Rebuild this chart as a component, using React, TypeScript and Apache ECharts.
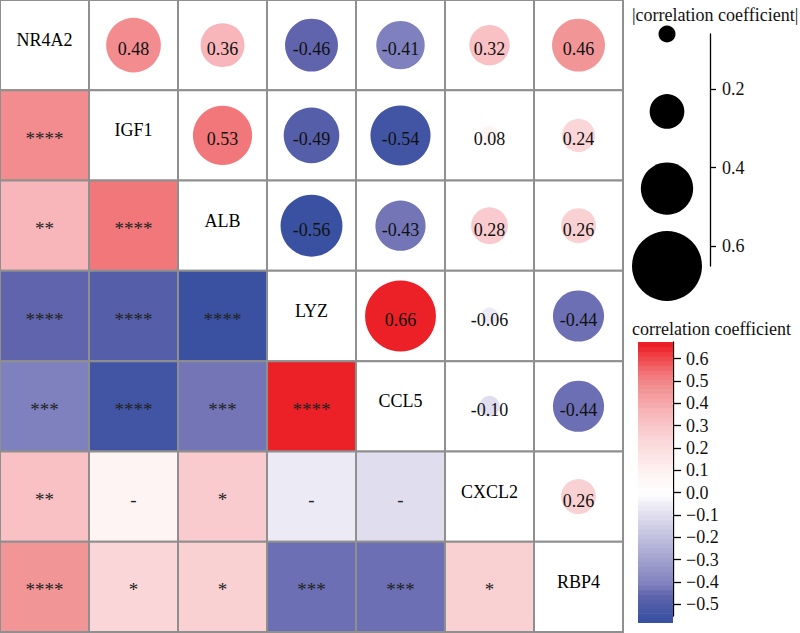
import React, { useEffect, useRef } from 'react';
import * as echarts from 'echarts';

// ---------- data ----------
const genes = ['NR4A2', 'IGF1', 'ALB', 'LYZ', 'CCL5', 'CXCL2', 'RBP4'];

const rNR4A2 = [1, 0.48, 0.36, -0.46, -0.41, 0.32, 0.46];
const rIGF1 = [0.48, 1, 0.53, -0.49, -0.54, 0.08, 0.24];
const rALB = [0.36, 0.53, 1, -0.56, -0.43, 0.28, 0.26];
const rLYZ = [-0.46, -0.49, -0.56, 1, 0.66, -0.06, -0.44];
const rCCL5 = [-0.41, -0.54, -0.43, 0.66, 1, -0.10, -0.44];
const rCXCL2 = [0.32, 0.08, 0.28, -0.06, -0.10, 1, 0.26];
const rRBP4 = [0.46, 0.24, 0.26, -0.44, -0.44, 0.26, 1];
const corrRows = [rNR4A2, rIGF1, rALB, rLYZ, rCCL5, rCXCL2, rRBP4];

// significance marks for the lower triangle (row gene vs earlier column genes)
const sigIGF1 = ['****'];
const sigALB = ['**', '****'];
const sigLYZ = ['****', '****', '****'];
const sigCCL5 = ['***', '****', '***', '****'];
const sigCXCL2 = ['**', '-', '*', '-', '-'];
const sigRBP4 = ['****', '*', '*', '***', '***', '*'];
const sigRows: string[][] = [[], sigIGF1, sigALB, sigLYZ, sigCCL5, sigCXCL2, sigRBP4];

// size legend values (|r|) and axis extent
const sizeLegendValues = [0.06, 0.257, 0.453, 0.65];
const sizeExtent = [0.06, 0.65];
// colour bar extent
const colorAxisExtent = [-0.553, 0.674];
const colorBarExtent = [-0.582, 0.674];

// ---------- style ----------
const FONT = '"Liberation Serif", "Times New Roman", Times, serif';
const GRID_COLOR = '#8f8f8f';
const TEXT_COLOR = '#111111';

const colorStops: [number, number[]][] = [
  [-0.56, [58, 81, 162]],
  [-0.46, [96, 100, 172]],
  [-0.41, [127, 128, 190]],
  [-0.10, [224, 222, 238]],
  [0, [255, 255, 255]],
  [0.08, [255, 244, 244]],
  [0.24, [250, 214, 216]],
  [0.36, [248, 182, 186]],
  [0.46, [242, 149, 151]],
  [0.53, [242, 119, 123]],
  [0.66, [236, 32, 39]],
];

function colorFor(r: number): string {
  if (r <= colorStops[0][0]) return rgb(colorStops[0][1]);
  const last = colorStops[colorStops.length - 1];
  if (r >= last[0]) return rgb(last[1]);
  for (let k = 0; k < colorStops.length - 1; k++) {
    const [a, ca] = colorStops[k];
    const [b, cb] = colorStops[k + 1];
    if (r >= a && r <= b) {
      const t = (r - a) / (b - a);
      return rgb([0, 1, 2].map((q) => ca[q] + (cb[q] - ca[q]) * t));
    }
  }
  return '#ffffff';
}
function rgb(c: number[]) {
  return `rgb(${Math.round(c[0])},${Math.round(c[1])},${Math.round(c[2])})`;
}
function diameter(a: number) {
  return 17 + (a - 0.06) * 89.8;
}

type Cell = { value: number[]; kind: 'diag' | 'lower' | 'upper'; text: string; r: number };

export default function App() {
  const ref = useRef<HTMLDivElement>(null);

  useEffect(() => {
    if (!ref.current) return;
    const chart = echarts.init(ref.current, undefined, { renderer: 'svg' });

    const cells: Cell[] = [];
    const circles: any[] = [];
    for (let i = 0; i < genes.length; i++) {
      for (let j = 0; j < genes.length; j++) {
        const r = corrRows[i][j];
        if (i === j) cells.push({ value: [j, i, r], kind: 'diag', text: genes[i], r });
        else if (j < i) cells.push({ value: [j, i, r], kind: 'lower', text: sigRows[i][j], r });
        else {
          cells.push({ value: [j, i, r], kind: 'upper', text: '', r });
          circles.push({ value: [j, i, r], itemStyle: { color: colorFor(r), opacity: 1 } });
        }
      }
    }

    const nBands = 60;
    const bands: number[][] = [];
    for (let k = 0; k < nBands; k++) {
      const v0 = colorBarExtent[0] + ((colorBarExtent[1] - colorBarExtent[0]) * k) / nBands;
      const v1 = colorBarExtent[0] + ((colorBarExtent[1] - colorBarExtent[0]) * (k + 1)) / nBands;
      bands.push([0, v0, v1]);
    }

    const axisBlack = { color: '#000', width: 1.3 };

    const option: any = {
      animation: false,
      backgroundColor: '#ffffff',
      grid: [
        { left: 0, top: 0, width: 623, height: 632 },
        { left: 624, top: 34, width: 86, height: 232 },
        { left: 638, top: 342, width: 35, height: 274 },
      ],
      xAxis: [
        { type: 'category', data: genes, gridIndex: 0, show: false },
        { type: 'value', gridIndex: 1, min: 0, max: 1, show: false },
        { type: 'value', gridIndex: 2, min: 0, max: 1, show: false },
      ],
      yAxis: [
        { type: 'category', data: genes, gridIndex: 0, inverse: true, show: false },
        {
          type: 'value',
          gridIndex: 1,
          inverse: true,
          min: sizeExtent[0],
          max: sizeExtent[1],
          splitNumber: 3,
          position: 'right',
          axisLine: { show: true, onZero: false, lineStyle: axisBlack },
          axisTick: { show: true, length: 6, lineStyle: axisBlack },
          splitLine: { show: false },
          axisLabel: {
            show: true,
            fontSize: 18,
            fontFamily: FONT,
            color: TEXT_COLOR,
            margin: 12,
            showMinLabel: false,
            showMaxLabel: false,
            formatter: (v: number) => v.toFixed(1),
          },
        },
        {
          type: 'value',
          gridIndex: 2,
          min: colorAxisExtent[0],
          max: colorAxisExtent[1],
          splitNumber: 12,
          position: 'right',
          axisLine: { show: true, onZero: false, lineStyle: axisBlack },
          axisTick: { show: true, length: 8, lineStyle: axisBlack },
          splitLine: { show: false },
          axisLabel: {
            show: true,
            fontSize: 18,
            fontFamily: FONT,
            color: TEXT_COLOR,
            margin: 13,
            showMinLabel: false,
            showMaxLabel: false,
            formatter: (v: number) => (Math.abs(v) < 1e-9 ? '0.0' : v.toFixed(1).replace('-', '\u2212')),
          },
        },
      ],
      graphic: [
        {
          type: 'text',
          x: 632,
          y: 15,
          style: {
            text: '|correlation coefficient|',
            font: `18px ${FONT}`,
            fill: TEXT_COLOR,
            textVerticalAlign: 'middle',
            verticalAlign: 'middle',
          },
        },
        {
          type: 'text',
          x: 632,
          y: 329,
          style: {
            text: 'correlation coefficient',
            font: `18px ${FONT}`,
            fill: TEXT_COLOR,
            textVerticalAlign: 'middle',
            verticalAlign: 'middle',
          },
        },
      ],
      series: [
        {
          type: 'custom',
          xAxisIndex: 0,
          yAxisIndex: 0,
          data: cells.map((c) => c.value),
          z: 1,
          renderItem: (params: any, api: any) => {
            const d = cells[params.dataIndex];
            const c = api.coord([api.value(0), api.value(1)]);
            const s = api.size([1, 1]);
            const fill = d.kind === 'lower' ? colorFor(d.r) : '#ffffff';
            const children: any[] = [
              {
                type: 'rect',
                shape: { x: c[0] - s[0] / 2, y: c[1] - s[1] / 2, width: s[0], height: s[1] },
                style: { fill, stroke: GRID_COLOR, lineWidth: 2 },
              },
            ];
            if (d.text) {
              const dy = d.kind === 'diag' ? -5 : 3;
              children.push({
                type: 'text',
                x: c[0],
                y: c[1] + dy,
                style: {
                  text: d.text,
                  font: `${d.kind === 'diag' ? 18 : 19}px ${FONT}`,
                  fill: d.kind === 'diag' ? '#000' : '#222',
                  textAlign: 'center',
                  textVerticalAlign: 'middle',
                  align: 'center',
                  verticalAlign: 'middle',
                },
              });
            }
            return { type: 'group', children };
          },
        },
        {
          type: 'scatter',
          xAxisIndex: 0,
          yAxisIndex: 0,
          z: 3,
          symbol: 'circle',
          symbolSize: (val: number[]) => diameter(Math.abs(val[2])),
          data: circles,
          itemStyle: { opacity: 1 },
          label: {
            show: true,
            position: 'inside',
            offset: [0, 4],
            formatter: (p: any) => p.value[2].toFixed(2),
            fontSize: 18,
            fontFamily: FONT,
            color: TEXT_COLOR,
            textBorderWidth: 0,
          },
          emphasis: { disabled: true },
        },
        {
          type: 'scatter',
          xAxisIndex: 1,
          yAxisIndex: 1,
          symbol: 'circle',
          symbolSize: (val: number[]) => diameter(val[1]),
          itemStyle: { color: '#000', opacity: 1 },
          data: sizeLegendValues.map((v) => [0.5, v]),
          emphasis: { disabled: true },
        },
        {
          type: 'custom',
          xAxisIndex: 2,
          yAxisIndex: 2,
          clip: false,
          z: 1,
          data: bands,
          renderItem: (params: any, api: any) => {
            const v0 = api.value(1);
            const v1 = api.value(2);
            const p0 = api.coord([0, v1]);
            const p1 = api.coord([1, v0]);
            return {
              type: 'rect',
              shape: { x: p0[0], y: p0[1], width: p1[0] - p0[0], height: p1[1] - p0[1] + 0.6 },
              style: { fill: colorFor((v0 + v1) / 2) },
            };
          },
        },
      ],
    };

    chart.setOption(option);
    return () => chart.dispose();
  }, []);

  return (
    <div
      ref={ref}
      style={{ position: 'fixed', left: 0, top: 0, width: 800, height: 633, background: '#fff' }}
    />
  );
}
